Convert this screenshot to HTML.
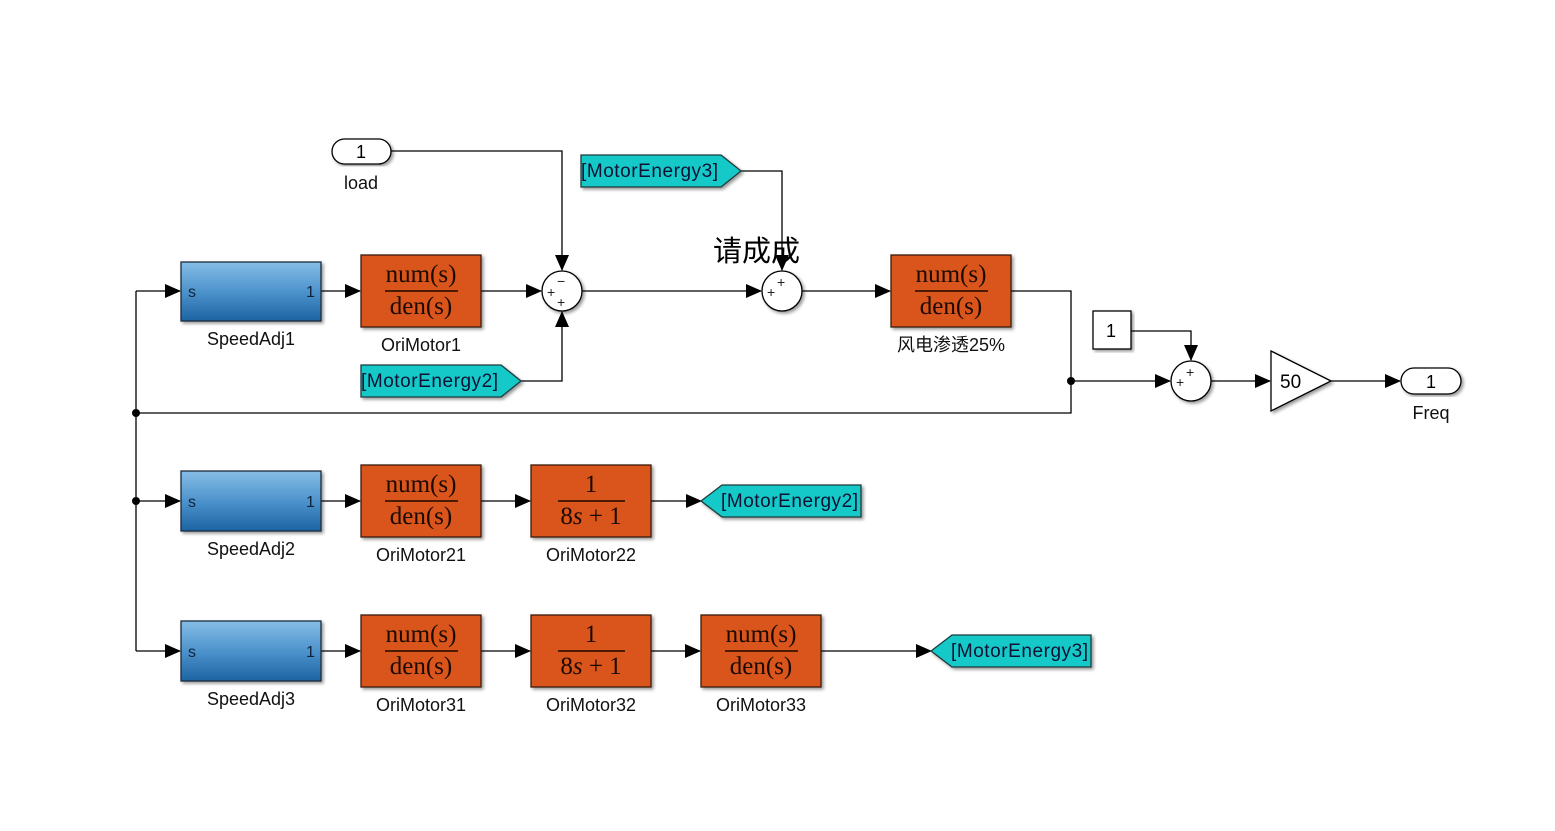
<!DOCTYPE html>
<html><head><meta charset="utf-8"><style>
body{margin:0;background:#fff}
svg{display:block}
text{font-family:"Liberation Sans","Noto Sans CJK SC",sans-serif}
.tf text,text.tf{font-family:"Liberation Serif",serif;font-size:25px;fill:#1a0a00}
.lb{font-size:18px;fill:#111}
</style></head><body>
<svg width="1555" height="831" viewBox="0 0 1555 831" xmlns="http://www.w3.org/2000/svg">
<defs>
<linearGradient id="bg" x1="0" y1="0" x2="0" y2="1"><stop offset="0" stop-color="#86bde6"/><stop offset="0.5" stop-color="#4d93cc"/><stop offset="1" stop-color="#1c63a3"/></linearGradient>
<marker id="a" markerWidth="16" markerHeight="14" refX="15" refY="7" orient="auto" markerUnits="userSpaceOnUse"><path d="M0,0 L16,7 L0,14 z" fill="#000"/></marker>
<filter id="sh"><feDropShadow dx="2" dy="2" stdDeviation="1.5" flood-opacity="0.4"/></filter>
</defs>
<g fill="none" stroke="#000" stroke-width="1.3">
<polyline points="391,151 562,151 562,270" marker-end="url(#a)"/>
<polyline points="521,381 562,381 562,312" marker-end="url(#a)"/>
<polyline points="741,171 782,171 782,270" marker-end="url(#a)"/>
<line x1="321" y1="291" x2="360" y2="291" marker-end="url(#a)"/>
<line x1="481" y1="291" x2="541" y2="291" marker-end="url(#a)"/>
<line x1="582" y1="291" x2="761" y2="291" marker-end="url(#a)"/>
<line x1="802" y1="291" x2="890" y2="291" marker-end="url(#a)"/>
<polyline points="1011,291 1071,291 1071,413 136,413"/>
<line x1="1071" y1="381" x2="1170" y2="381" marker-end="url(#a)"/>
<polyline points="1131,331 1191,331 1191,360" marker-end="url(#a)"/>
<line x1="1211" y1="381" x2="1270" y2="381" marker-end="url(#a)"/>
<line x1="1331" y1="381" x2="1400" y2="381" marker-end="url(#a)"/>
<line x1="136" y1="291" x2="136" y2="651"/>
<line x1="136" y1="291" x2="180" y2="291" marker-end="url(#a)"/>
<line x1="136" y1="501" x2="180" y2="501" marker-end="url(#a)"/>
<line x1="136" y1="651" x2="180" y2="651" marker-end="url(#a)"/>
<line x1="321" y1="501" x2="360" y2="501" marker-end="url(#a)"/>
<line x1="481" y1="501" x2="530" y2="501" marker-end="url(#a)"/>
<line x1="651" y1="501" x2="701" y2="501" marker-end="url(#a)"/>
<line x1="321" y1="651" x2="360" y2="651" marker-end="url(#a)"/>
<line x1="481" y1="651" x2="530" y2="651" marker-end="url(#a)"/>
<line x1="651" y1="651" x2="700" y2="651" marker-end="url(#a)"/>
<line x1="821" y1="651" x2="931" y2="651" marker-end="url(#a)"/>
</g>
<circle cx="136" cy="413" r="4"/><circle cx="136" cy="501" r="4"/><circle cx="1071" cy="381" r="4"/>

<rect x="332" y="139" width="59" height="25" rx="12.5" fill="#fff" stroke="#000" stroke-width="1.3" filter="url(#sh)"/>
<text x="361" y="158" font-size="18" text-anchor="middle">1</text>
<text x="361" y="189" class="lb" text-anchor="middle">load</text>

<g stroke="#1d2b3a" stroke-width="1.3" filter="url(#sh)">
<rect x="181" y="262" width="140" height="59" fill="url(#bg)"/>
<rect x="181" y="471" width="140" height="60" fill="url(#bg)"/>
<rect x="181" y="621" width="140" height="60" fill="url(#bg)"/>
</g>
<g font-size="16" fill="#10243a">
<text x="188" y="297">s</text><text x="306" y="297">1</text>
<text x="188" y="507">s</text><text x="306" y="507">1</text>
<text x="188" y="657">s</text><text x="306" y="657">1</text>
</g>
<text x="251" y="345" class="lb" text-anchor="middle">SpeedAdj1</text>
<text x="251" y="555" class="lb" text-anchor="middle">SpeedAdj2</text>
<text x="251" y="705" class="lb" text-anchor="middle">SpeedAdj3</text>

<g fill="#d9541a" stroke="#3a1a08" stroke-width="1.3" filter="url(#sh)">
<rect x="361" y="255" width="120" height="72"/>
<rect x="891" y="255" width="120" height="72"/>
<rect x="361" y="465" width="120" height="72"/>
<rect x="531" y="465" width="120" height="72"/>
<rect x="361" y="615" width="120" height="72"/>
<rect x="531" y="615" width="120" height="72"/>
<rect x="701" y="615" width="120" height="72"/>
</g>
<g stroke="#1a0a00" stroke-width="1.5">
<line x1="385" y1="291" x2="458" y2="291"/><line x1="915" y1="291" x2="988" y2="291"/>
<line x1="385" y1="501" x2="458" y2="501"/><line x1="558" y1="501" x2="625" y2="501"/>
<line x1="385" y1="651" x2="458" y2="651"/><line x1="558" y1="651" x2="625" y2="651"/><line x1="725" y1="651" x2="798" y2="651"/>
</g>
<g class="tf" text-anchor="middle">
<text x="421" y="282">num(s)</text><text x="421" y="314">den(s)</text>
<text x="951" y="282">num(s)</text><text x="951" y="314">den(s)</text>
<text x="421" y="492">num(s)</text><text x="421" y="524">den(s)</text>
<text x="591" y="492">1</text><text x="591" y="524">8<tspan font-style="italic">s</tspan> + 1</text>
<text x="421" y="642">num(s)</text><text x="421" y="674">den(s)</text>
<text x="591" y="642">1</text><text x="591" y="674">8<tspan font-style="italic">s</tspan> + 1</text>
<text x="761" y="642">num(s)</text><text x="761" y="674">den(s)</text>
</g>
<g class="lb" text-anchor="middle">
<text x="421" y="351">OriMotor1</text>
<text x="951" y="351">风电渗透25%</text>
<text x="421" y="561">OriMotor21</text><text x="591" y="561">OriMotor22</text>
<text x="421" y="711">OriMotor31</text><text x="591" y="711">OriMotor32</text><text x="761" y="711">OriMotor33</text>
</g>

<g fill="#fff" stroke="#000" stroke-width="1.3" filter="url(#sh)">
<circle cx="562" cy="291" r="20"/><circle cx="782" cy="291" r="20"/><circle cx="1191" cy="381" r="20"/>
</g>
<g font-size="14" fill="#222">
<text x="547" y="297">+</text><text x="557" y="286">−</text><text x="557" y="307">+</text>
<text x="767" y="297">+</text><text x="777" y="287">+</text>
<text x="1176" y="387">+</text><text x="1186" y="377">+</text>
</g>
<text x="713" y="261" font-size="29" font-family="'Noto Sans CJK SC',sans-serif">请成成</text>

<g fill="#19c9c9" stroke="#1e3a3a" stroke-width="1.3" filter="url(#sh)">
<polygon points="581,155 721,155 741,171 721,187 581,187"/>
<polygon points="361,365 501,365 521,381 501,397 361,397"/>
<polygon points="701,501 722,485 861,485 861,517 722,517"/>
<polygon points="931,651 952,635 1091,635 1091,667 952,667"/>
</g>
<g font-size="19" fill="#113">
<text x="581" y="177" textLength="137">[MotorEnergy3]</text>
<text x="361" y="387" textLength="137">[MotorEnergy2]</text>
<text x="721" y="507" textLength="137">[MotorEnergy2]</text>
<text x="951" y="657" textLength="137">[MotorEnergy3]</text>
</g>

<rect x="1093" y="311" width="38" height="38" fill="#fff" stroke="#000" stroke-width="1.3" filter="url(#sh)"/>
<text x="1111" y="337" font-size="18" text-anchor="middle">1</text>
<polygon points="1271,351 1331,381 1271,411" fill="#fff" stroke="#000" stroke-width="1.3" filter="url(#sh)"/>
<text x="1280" y="388" font-size="19">50</text>
<rect x="1401" y="368" width="60" height="26" rx="13" fill="#fff" stroke="#000" stroke-width="1.3" filter="url(#sh)"/>
<text x="1431" y="388" font-size="18" text-anchor="middle">1</text>
<text x="1431" y="419" class="lb" text-anchor="middle">Freq</text>
</svg>
</body></html>
